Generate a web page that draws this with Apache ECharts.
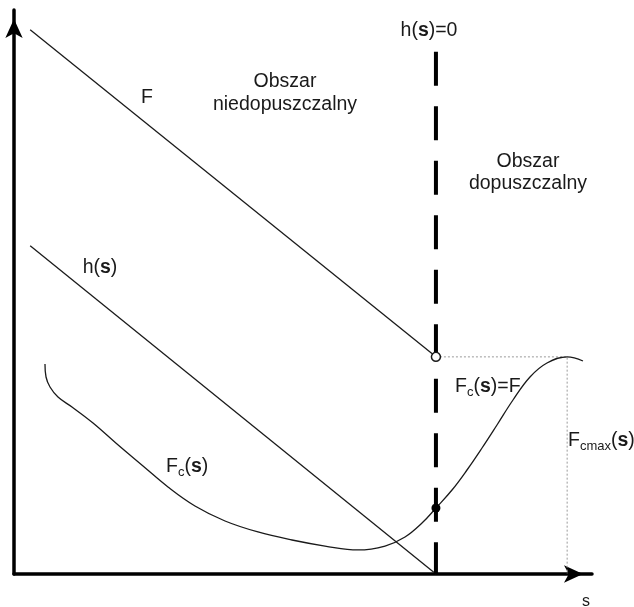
<!DOCTYPE html>
<html>
<head>
<meta charset="utf-8">
<title>Obszar dopuszczalny</title>
<script src="https://cdn.jsdelivr.net/npm/echarts@6/dist/echarts.min.js"></script>
<style>
  html, body { margin: 0; padding: 0; background: #fff; }
  #chart { width: 634px; height: 607px; }
</style>
</head>
<body>
<div id="chart"></div>
<script>
// Boundary of the feasible region: h(s) = 0
const sBoundary = 73;

// Objective F (straight line), ends at the boundary
const fS = [2.8, 73];
const fValues = [96.5, 38.5];

// Constraint h(s), reaches zero at the boundary
const hS = [2.8, 73];
const hValues = [58.2, 0];

// Constraint force Fc(s)
const fcS = [5.36, 5.54, 6.23, 7.61, 10.03, 13.67, 17.82, 22.32, 26.64, 31.31, 36.51, 42.21, 48.10, 53.81,
             59.52, 64.19, 67.65, 70.59, 73.0, 75.78, 78.37, 80.97, 83.56, 86.33, 89.27, 92.21, 95.7, 98.44];
const fcValues = [37.23, 34.93, 33.16, 31.38, 29.61, 26.77, 23.05, 19.15, 15.43, 12.06, 9.40, 7.45, 6.03, 4.96,
                  4.26, 4.96, 6.56, 9.04, 11.70, 14.89, 18.44, 22.34, 26.42, 30.85, 34.93, 37.41, 38.5, 37.77];

// Maximum of Fc(s)
const fcMaxS = 95.7;
const fcMaxValue = 38.5;

// Top end of the dashed boundary line
const boundaryTop = 92.6;

const pairs = (xs, ys) => xs.map((x, i) => [x, ys[i]]);
const fcAtBoundary = fcValues[fcS.indexOf(sBoundary)];

const INK = '#1a1a1a';
const FONT = '"Liberation Sans", Arial, Helvetica, sans-serif';
const SIZE = 19.5;
const rich = {
  sub: { fontSize: 13, fontFamily: FONT, fill: INK, color: INK, verticalAlign: 'bottom', lineHeight: 13 },
  b: { fontSize: SIZE, fontWeight: 'bold', fontFamily: FONT, fill: INK, color: INK, lineHeight: 23 },
  n: { fontSize: SIZE, fontFamily: FONT, fill: INK, color: INK, lineHeight: 23 }
};

function label(text, x, y, align, extra) {
  return {
    type: 'text',
    x: x, y: y,
    silent: true,
    style: Object.assign({
      text: text,
      fill: INK,
      fontSize: SIZE,
      fontFamily: FONT,
      align: align || 'center',
      verticalAlign: 'middle',
      lineHeight: 23,
      rich: rich
    }, extra || {})
  };
}

const chart = echarts.init(document.getElementById('chart'), null, { renderer: 'canvas' });

chart.setOption({
  animation: false,
  backgroundColor: '#ffffff',
  grid: { left: 14, right: 42, top: 10, bottom: 33, containLabel: false, outerBoundsMode: 'none' },
  xAxis: {
    type: 'value', min: 0, max: 100,
    splitLine: { show: false },
    axisTick: { show: false },
    axisLabel: { show: false },
    axisLine: {
      show: true, onZero: false,
      symbol: ['none', 'arrow'], symbolSize: [13, 19], symbolOffset: [0, -9],
      lineStyle: { color: '#000', width: 3.5 }
    }
  },
  yAxis: {
    type: 'value', min: 0, max: 100,
    splitLine: { show: false },
    axisTick: { show: false },
    axisLabel: { show: false },
    axisLine: {
      show: true, onZero: false,
      symbol: ['none', 'arrow'], symbolSize: [13, 19], symbolOffset: [0, -9],
      lineStyle: { color: '#000', width: 3.5 }
    }
  },
  series: [
    {
      name: 'F', type: 'line', data: pairs(fS, fValues),
      symbol: 'none', lineStyle: { color: INK, width: 1.3 }, z: 3
    },
    {
      name: 'h(s)', type: 'line', data: pairs(hS, hValues),
      symbol: 'none', lineStyle: { color: INK, width: 1.3 }, z: 3
    },
    {
      name: 'Fc(s)', type: 'line', data: pairs(fcS, fcValues),
      symbol: 'none', smooth: 0.4,
      lineStyle: { color: INK, width: 1.3 }, z: 3
    },
    {
      name: 'Fcmax', type: 'line',
      data: [[sBoundary, fcMaxValue], [fcMaxS, fcMaxValue], [fcMaxS, 0]],
      symbol: 'none', lineStyle: { color: '#9a9a9a', width: 1, type: [2, 2] }, z: 2
    },
    {
      name: 'h(s)=0', type: 'line',
      data: [[sBoundary, boundaryTop], [sBoundary, 0]],
      symbol: 'none', lineStyle: { color: '#000', width: 4, type: [34, 20.5] }, z: 4
    },
    {
      name: 'points', type: 'scatter', z: 5,
      itemStyle: { opacity: 1 },
      data: [
        { value: [sBoundary, fValues[1]], symbolSize: 9, itemStyle: { color: '#fff', borderColor: INK, borderWidth: 1.5, opacity: 1 } },
        { value: [sBoundary, fcAtBoundary], symbolSize: 9, itemStyle: { color: '#000', opacity: 1 } }
      ]
    }
  ],
  graphic: [
    label('{n|h(}{b|s}{n|)=0}', 429, 31),
    label('Obszar\nniedopuszczalny', 285, 93.5, 'center', { lineHeight: 23 }),
    label('Obszar\ndopuszczalny', 528, 173, 'center', { lineHeight: 22 }),
    label('F', 147, 98),
    label('{n|h(}{b|s}{n|)}', 100, 268),
    label('{n|F}{sub|c}{n|(}{b|s}{n|)}', 166, 467, 'left'),
    label('{n|F}{sub|c}{n|(}{b|s}{n|)=F}', 455, 387, 'left'),
    label('{n|F}{sub|cmax}{n|(}{b|s}{n|)}', 568, 441, 'left'),
    label('s', 586, 602, 'center', { fontSize: 16 })
  ]
});
</script>
</body>
</html>
